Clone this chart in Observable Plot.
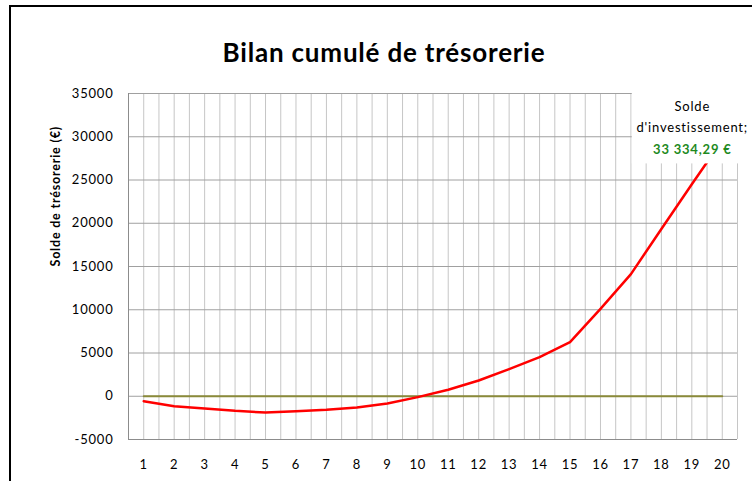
<!DOCTYPE html>
<html>
<head>
<meta charset="utf-8">
<script src="https://cdn.jsdelivr.net/npm/d3@7"></script>
<script src="https://cdn.jsdelivr.net/npm/@observablehq/plot@0.6"></script>
<style>
  html, body { margin: 0; padding: 0; background: #fff; }
  #wrap { position: relative; width: 752px; height: 481px; overflow: hidden; }
  #border { position: absolute; left: 9px; top: 5px; width: 800px; height: 600px; border: 2px solid #000; pointer-events: none; z-index: 2; }
  #chart { position: absolute; left: 0; top: 0; }
  #chart svg text { letter-spacing: 0.8px; }
</style>
</head>
<body>
<div id="wrap"><div id="chart"></div><div id="border"></div></div>
<script>
// ---- data ----
const title = "Bilan cumulé de trésorerie";
const yLabel = "Solde de trésorerie (€)";
const categories = [1, 2, 3, 4, 5, 6, 7, 8, 9, 10, 11, 12, 13, 14, 15, 16, 17, 18, 19, 20];
const soldeCumule = [-570, -1150, -1410, -1690, -1880, -1720, -1570, -1300, -840, -100,
                     745, 1820, 3130, 4520, 6250, 10100, 14120, 19340, 24500, 29600];
const zeroSeries = [0, 0, 0, 0, 0, 0, 0, 0, 0, 0, 0, 0, 0, 0, 0, 0, 0, 0, 0, 0];
const yTicks = [-5000, 0, 5000, 10000, 15000, 20000, 25000, 30000, 35000];
const labelName = ["Solde", "d'investissement;"];
const labelValue = "33 334,29 €";
const labelAnchor = [{x: 20, y: 33334.29}];

// ---- derived tables ----
const lineData = categories.map((c, i) => ({x: c, y: soldeCumule[i]}));
const zeroData = categories.map((c, i) => ({x: c, y: zeroSeries[i]}));
const first = categories[0], last = categories[categories.length - 1];
const gridX = d3.range(first - 0.5, last + 0.5 + 1e-9, 0.5);

const chart = Plot.plot({
  width: 752,
  height: 481,
  marginLeft: 128,
  marginRight: 15,
  marginTop: 93,
  marginBottom: 42,
  style: {background: "transparent", fontFamily: "Lato, 'Open Sans', sans-serif", fontSize: "13px", color: "#000"},
  x: {type: "linear", domain: [first - 0.5, last + 0.5], ticks: categories, tickSize: 0, tickPadding: 20, tickFormat: d => String(d), label: null},
  y: {domain: [yTicks[0], yTicks[yTicks.length - 1]], ticks: yTicks, tickSize: 0, tickPadding: 15, tickFormat: d => String(d), label: null},
  marks: [
    Plot.ruleX(gridX, {stroke: "#c6c6c6", strokeWidth: 1}),
    Plot.ruleY(yTicks, {stroke: "#a0a0a0", strokeWidth: 1}),
    Plot.ruleX([first - 0.5], {stroke: "#8c8c8c", strokeWidth: 1}),
    Plot.ruleY([yTicks[0]], {stroke: "#8c8c8c", strokeWidth: 1}),
    Plot.line(zeroData, {x: "x", y: "y", stroke: "#8a8a3a", strokeWidth: 2}),
    Plot.line(lineData, {x: "x", y: "y", stroke: "#ff0000", strokeWidth: 2.5}),
    // data label box
    Plot.rect(labelAnchor, {x1: "x", x2: "x", y1: "y", y2: "y", fill: "#fff",
      insetLeft: -90, insetRight: -45, insetTop: -24, insetBottom: -56}),
    Plot.text(labelAnchor, {x: "x", y: "y", text: () => labelName[0], dx: -30, dy: -1,
      fontSize: 13, fill: "#000"}),
    Plot.text(labelAnchor, {x: "x", y: "y", text: () => labelName[1], dx: -30, dy: 20,
      fontSize: 13, fill: "#000"}),
    Plot.text(labelAnchor, {x: "x", y: "y", text: () => labelValue, dx: -30, dy: 42,
      fontSize: 13, fontWeight: "bold", fill: "#1e8a1e"}),
    // title
    Plot.text([title], {frameAnchor: "top", text: d => d, dx: -49, dy: -50, fontSize: 26, fontWeight: "bold", fill: "#000"}),
    // y axis label
    Plot.text([yLabel], {frameAnchor: "left", text: d => d, rotate: -90, dx: -73, dy: 0, fontSize: 12.5, fontWeight: "bold", fill: "#000"})
  ]
});
document.getElementById("chart").appendChild(chart);
</script>
</body>
</html>
